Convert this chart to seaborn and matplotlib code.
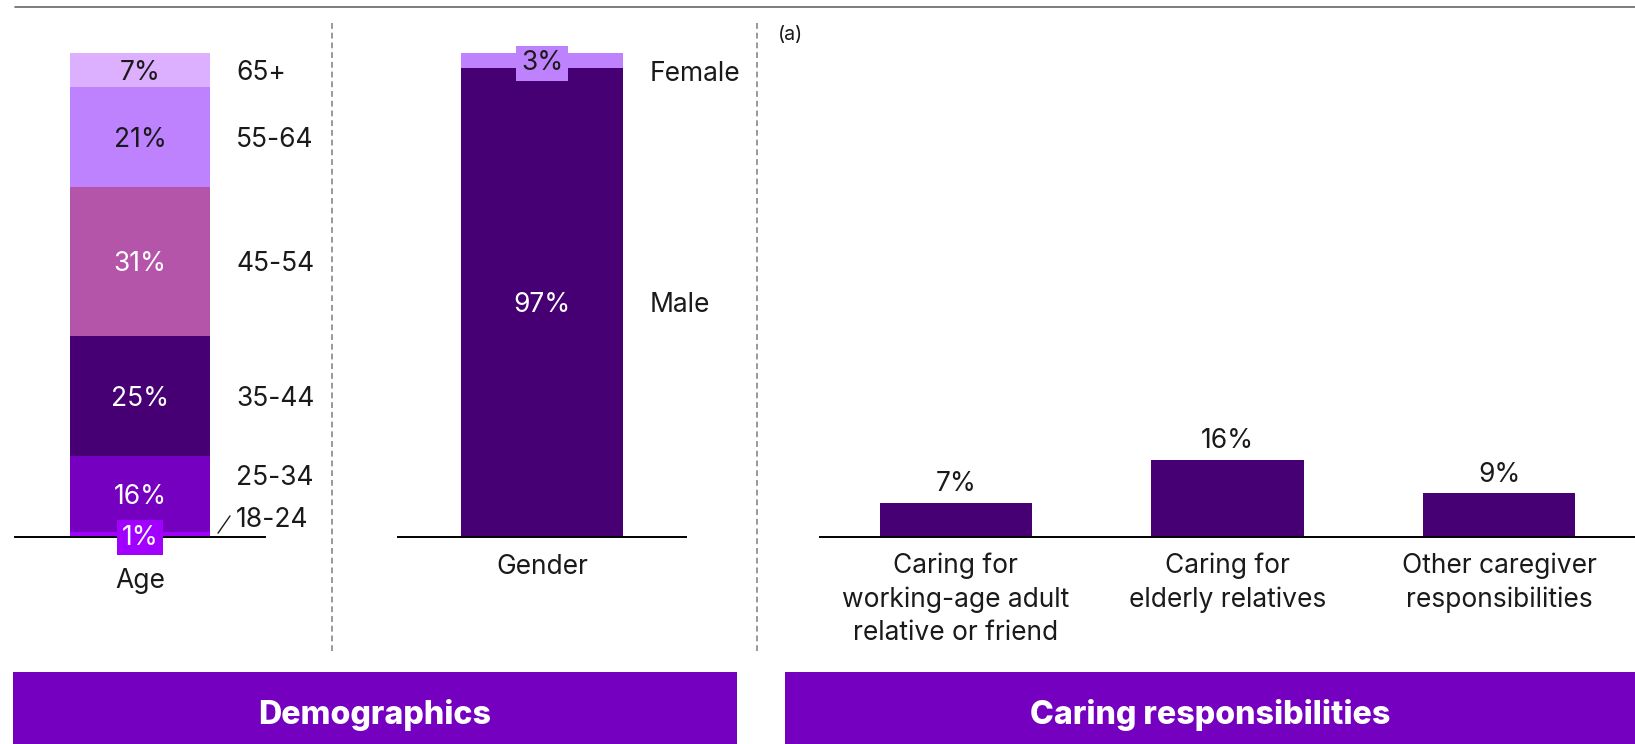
import matplotlib
matplotlib.use("Agg")
import matplotlib.pyplot as plt
from matplotlib.lines import Line2D
from matplotlib.patches import Rectangle
import numpy as np
import seaborn as sns

# ---- data -------------------------------------------------------------
age_groups = ["18-24", "25-34", "35-44", "45-54", "55-64", "65+"]
age_share = [1, 16, 25, 31, 21, 7]
age_colors = ["#A100FF", "#7500C0", "#460073", "#B455AA", "#BE82FF", "#DCAFFF"]
age_text_colors = ["white", "white", "white", "white", "#1a1a1a", "#1a1a1a"]

gender_groups = ["Male", "Female"]
gender_share = [97, 3]
gender_colors = ["#460073", "#BE82FF"]
gender_text_colors = ["white", "#1a1a1a"]

care_categories = [
    "Caring for\nworking-age adult\nrelative or friend",
    "Caring for\nelderly relatives",
    "Other caregiver\nresponsibilities",
]
care_share = [7, 16, 9]

panel_titles = ["Demographics", "Caring responsibilities"]

# ---- styling ----------------------------------------------------------
sns.set_theme(style="white")
plt.rcParams["font.family"] = ["Inter", "DejaVu Sans"]
DARK = "#1a1a1a"
PURPLE = "#7500C0"
FS = 19

W, H = 1635, 744
fig = plt.figure(figsize=(W / 100, H / 100), dpi=100)

PX_PER_PCT = 4.84
Y_MAX = 102
base_px = 537
ax_bottom = (H - base_px) / H
ax_height = Y_MAX * PX_PER_PCT / H


def make_axes(left_px, right_px):
    ax = fig.add_axes([left_px / W, ax_bottom, (right_px - left_px) / W, ax_height])
    ax.set_facecolor("none")
    for s in ["top", "right", "left"]:
        ax.spines[s].set_visible(False)
    ax.spines["bottom"].set_color("black")
    ax.spines["bottom"].set_linewidth(1.4)
    ax.set_yticks([])
    ax.tick_params(axis="x", length=0, labelsize=FS, labelcolor=DARK)
    return ax


def stacked_bar(ax, label, shares, colors):
    cum = np.cumsum(shares)
    # draw cumulative totals from the tallest down so each segment shows
    for total, col in zip(cum[::-1], colors[::-1]):
        sns.barplot(x=[label], y=[total], color=col, saturation=1,
                    width=0.56, linewidth=0, ax=ax)
    return cum


# ---- Age --------------------------------------------------------------
ax_age = make_axes(15, 265)
cum = stacked_bar(ax_age, "Age", age_share, age_colors)
age_scale = cum[-1] / 100          # shares sum to just over 100 after rounding
ax_age.set_xlim(-0.5, 0.5)
ax_age.set_ylim(0, Y_MAX * age_scale)
ax_age.set_xlabel("")
ax_age.set_ylabel("")
ax_age.tick_params(axis="x", pad=22)

mids = cum - np.array(age_share) / 2
for i, (grp, v, m, tc) in enumerate(zip(age_groups, age_share, mids, age_text_colors)):
    if v < 3:
        ax_age.text(0, m, f"{v}%", ha="center", va="center_baseline", fontsize=FS,
                    color="white", clip_on=False,
                    bbox=dict(boxstyle="square,pad=0.18", fc=age_colors[i], ec="none"))
    else:
        ax_age.text(0, m, f"{v}%", ha="center", va="center_baseline", fontsize=FS, color=tc)

label_y = list(mids)
label_y[1] = mids[1] + 4     # 25-34 nudged up
label_y[0] = mids[0] + 3.7   # 18-24 nudged clear of the axis line
for grp, y in zip(age_groups, label_y):
    ax_age.text(0.384, y, grp, ha="left", va="center_baseline", fontsize=FS, color=DARK)
ax_age.plot([0.312, 0.36], [0.8, 4.4], color=DARK, lw=1, clip_on=False)

# ---- Gender -----------------------------------------------------------
ax_gen = make_axes(398, 686)
gcum = stacked_bar(ax_gen, "Gender", gender_share, gender_colors)
ax_gen.set_xlim(-0.5, 0.5)
ax_gen.set_ylim(0, Y_MAX)
ax_gen.set_xlabel("")
ax_gen.set_ylabel("")
ax_gen.tick_params(axis="x", pad=12)

gmids = gcum - np.array(gender_share) / 2
for i, (grp, v, m, tc) in enumerate(zip(gender_groups, gender_share, gmids, gender_text_colors)):
    if v < 5:
        ax_gen.text(0, m, f"{v}%", ha="center", va="center_baseline", fontsize=FS, color=tc,
                    bbox=dict(boxstyle="square,pad=0.18", fc=gender_colors[i], ec="none"))
        ax_gen.text(0.375, gcum[i] - 3.8, grp, ha="left", va="center_baseline",
                    fontsize=FS, color=DARK)
    else:
        ax_gen.text(0, m, f"{v}%", ha="center", va="center_baseline", fontsize=FS, color=tc)
        ax_gen.text(0.375, m, grp, ha="left", va="center_baseline", fontsize=FS, color=DARK)

# ---- Caring responsibilities -----------------------------------------
ax_care = make_axes(820, 1635)
sns.barplot(x=care_categories, y=care_share, color="#460073", saturation=1,
            width=0.56, linewidth=0, ax=ax_care)
ax_care.set_xlim(-0.5, 2.5)
ax_care.set_ylim(0, Y_MAX)
ax_care.set_xlabel("")
ax_care.set_ylabel("")
ax_care.tick_params(axis="x", pad=11)
for lbl in ax_care.get_xticklabels():
    lbl.set_linespacing(1.37)
for i, v in enumerate(care_share):
    ax_care.text(i, v + 1.2, f"{v}%", ha="center", va="bottom", fontsize=FS, color=DARK)

fig.text(790 / W, 1 - 35 / H, "(a)", ha="center", va="center", fontsize=14, color=DARK)

# ---- frame: top rule, dividers, section banners ----------------------
fig.add_artist(Line2D([15 / W, 1], [1 - 7 / H, 1 - 7 / H], color="#666666", lw=1.2))
for xpx in (331.5, 757):
    fig.add_artist(Line2D([xpx / W, xpx / W], [1 - 23 / H, 1 - 651 / H],
                          color="#999999", lw=1.4, linestyle=(0, (3, 2))))

banner_top = (H - 672) / H
for (x0, x1), title in zip([(12.5, 737), (785, 1635)], panel_titles):
    fig.add_artist(Rectangle((x0 / W, 0), (x1 - x0) / W, banner_top,
                             transform=fig.transFigure, fc=PURPLE, ec="none"))
    fig.text((x0 + x1) / 2 / W, (H - 724) / H, title, ha="center", va="baseline",
             fontsize=23.2, fontweight="heavy", color="white")

fig.savefig("out.png", dpi=100)
